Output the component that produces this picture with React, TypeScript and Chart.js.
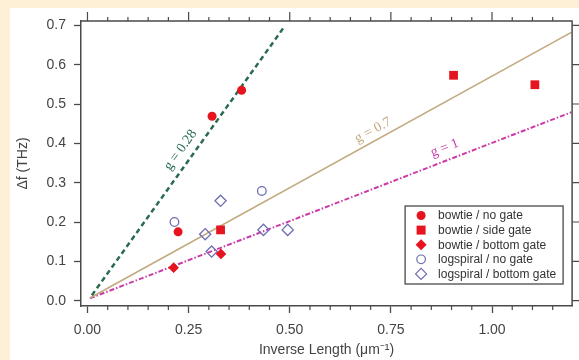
import React, { useEffect, useRef } from 'react';
import { Chart, registerables } from 'chart.js';

Chart.register(...registerables);

// ---- data ----
const bowtieNoGateX = [0.224, 0.308, 0.381];
const bowtieNoGateY = [0.175, 0.469, 0.535];
const bowtieSideGateX = [0.329, 0.905, 1.106];
const bowtieSideGateY = [0.18, 0.573, 0.549];
const bowtieBottomGateX = [0.213, 0.33];
const bowtieBottomGateY = [0.084, 0.119];
const logspiralNoGateX = [0.215, 0.431];
const logspiralNoGateY = [0.2, 0.279];
const logspiralBottomGateX = [0.329, 0.291, 0.435, 0.495, 0.307];
const logspiralBottomGateY = [0.254, 0.169, 0.18, 0.18, 0.125];

// fitted lines (endpoints)
const g028X = [0.011, 0.487];
const g028Y = [0.014, 0.697];
const g07X = [0.006, 1.196];
const g07Y = [0.007, 0.682];
const g1X = [0.006, 1.196];
const g1Y = [0.006, 0.479];

const lineLabels = ['g = 0.28', 'g = 0.7', 'g = 1'];
const lineLabelX = [0.23, 0.706, 0.883];
const lineLabelY = [0.383, 0.433, 0.388];

const legendLabels = [
  'bowtie / no gate',
  'bowtie / side gate',
  'bowtie / bottom gate',
  'logspiral / no gate',
  'logspiral / bottom gate',
];

const xMinorTicks = [0.05, 0.1, 0.15, 0.2, 0.3, 0.35, 0.4, 0.45, 0.55, 0.6, 0.65, 0.7, 0.8, 0.85, 0.9, 0.95, 1.05, 1.1, 1.15];
const xMajorTicks = [0, 0.25, 0.5, 0.75, 1.0];
const yMajorTicks = [0, 0.1, 0.2, 0.3, 0.4, 0.5, 0.6, 0.7];

const RED = '#e5141e';
const BLUE = '#6e6eb4';
const GREEN = '#2a6b52';
const TAN = '#c2a97f';
const MAGENTA = '#cc3aa8';
const AXIS = '#4a4a4a';

const pts = (xs: number[], ys: number[]) => xs.map((x, i) => ({ x, y: ys[i] }));

const framePlugin = {
  id: 'frame',
  afterDraw(chart: any) {
    const { ctx, chartArea, scales } = chart;
    const { left, right, top, bottom } = chartArea;
    const xs = scales.x;
    const ys = scales.y;
    ctx.save();
    ctx.strokeStyle = AXIS;
    ctx.lineWidth = 1.5;
    ctx.beginPath();
    ctx.moveTo(left, top);
    ctx.lineTo(right, top);
    ctx.lineTo(right, bottom);
    ctx.stroke();
    ctx.lineWidth = 1.2;
    ctx.beginPath();
    for (const v of xMinorTicks) {
      const px = xs.getPixelForValue(v);
      ctx.moveTo(px, bottom);
      ctx.lineTo(px, bottom + 4);
      ctx.moveTo(px, top);
      ctx.lineTo(px, top - 4);
    }
    for (const v of xMajorTicks) {
      const px = xs.getPixelForValue(v);
      ctx.moveTo(px, top);
      ctx.lineTo(px, top - 9);
    }
    for (const v of yMajorTicks) {
      const py = ys.getPixelForValue(v);
      ctx.moveTo(right, py);
      ctx.lineTo(right + 7, py);
    }
    ctx.stroke();

    // line labels, rotated along their lines
    const lines = [
      { X: g028X, Y: g028Y, c: GREEN },
      { X: g07X, Y: g07Y, c: TAN },
      { X: g1X, Y: g1Y, c: MAGENTA },
    ];
    lines.forEach((l, i) => {
      const x0 = xs.getPixelForValue(l.X[0]);
      const x1 = xs.getPixelForValue(l.X[1]);
      const y0 = ys.getPixelForValue(l.Y[0]);
      const y1 = ys.getPixelForValue(l.Y[1]);
      const ang = Math.atan2(y1 - y0, x1 - x0);
      const px = xs.getPixelForValue(lineLabelX[i]);
      const py = ys.getPixelForValue(lineLabelY[i]);
      ctx.save();
      ctx.translate(px, py);
      ctx.rotate(ang);
      ctx.fillStyle = l.c;
      ctx.font = '14px "Liberation Serif", "Times New Roman", serif';
      ctx.textAlign = 'center';
      ctx.textBaseline = 'middle';
      ctx.fillText(lineLabels[i], 0, 0);
      ctx.restore();
    });

    // legend
    const bw = 158;
    const bh = 78;
    const bx = right - 9 - bw;
    const by = bottom - 22 - bh;
    ctx.fillStyle = '#ffffff';
    ctx.fillRect(bx, by, bw, bh);
    ctx.strokeStyle = AXIS;
    ctx.lineWidth = 1.3;
    ctx.strokeRect(bx, by, bw, bh);
    ctx.font = '12px "Liberation Sans", Arial, sans-serif';
    ctx.textAlign = 'left';
    ctx.textBaseline = 'middle';
    legendLabels.forEach((lab, i) => {
      const cy = by + 9.5 + i * 14.6;
      const cx = bx + 16;
      ctx.beginPath();
      if (i === 0) {
        ctx.fillStyle = RED;
        ctx.arc(cx, cy, 4.5, 0, Math.PI * 2);
        ctx.fill();
      } else if (i === 1) {
        ctx.fillStyle = RED;
        ctx.fillRect(cx - 4.5, cy - 4.5, 9, 9);
      } else if (i === 2) {
        ctx.fillStyle = RED;
        ctx.moveTo(cx - 5.5, cy);
        ctx.lineTo(cx, cy - 5.5);
        ctx.lineTo(cx + 5.5, cy);
        ctx.lineTo(cx, cy + 5.5);
        ctx.closePath();
        ctx.fill();
      } else if (i === 3) {
        ctx.strokeStyle = BLUE;
        ctx.lineWidth = 1.2;
        ctx.arc(cx, cy, 4.3, 0, Math.PI * 2);
        ctx.stroke();
      } else {
        ctx.strokeStyle = BLUE;
        ctx.lineWidth = 1.2;
        ctx.moveTo(cx - 5.5, cy);
        ctx.lineTo(cx, cy - 5.5);
        ctx.lineTo(cx + 5.5, cy);
        ctx.lineTo(cx, cy + 5.5);
        ctx.closePath();
        ctx.stroke();
      }
      ctx.fillStyle = '#333333';
      ctx.fillText(lab, bx + 33, cy + 0.5);
    });
    ctx.restore();
  },
};

export default function App() {
  const ref = useRef<HTMLCanvasElement | null>(null);

  useEffect(() => {
    if (!ref.current) return;
    const tickFont = { family: '"Liberation Sans", Arial, sans-serif', size: 14 };
    const chart = new Chart(ref.current, {
      type: 'scatter',
      data: {
        datasets: [
          {
            label: 'bowtie / no gate',
            data: pts(bowtieNoGateX, bowtieNoGateY),
            pointStyle: 'circle',
            pointRadius: 4.5,
            backgroundColor: RED,
            borderColor: RED,
            borderWidth: 0,
            order: 1,
          },
          {
            label: 'bowtie / side gate',
            data: pts(bowtieSideGateX, bowtieSideGateY),
            pointStyle: 'rect',
            pointRadius: 6.2,
            backgroundColor: RED,
            borderColor: RED,
            borderWidth: 0,
            order: 1,
          },
          {
            label: 'bowtie / bottom gate',
            data: pts(bowtieBottomGateX, bowtieBottomGateY),
            pointStyle: 'rectRot',
            pointRadius: 5.3,
            backgroundColor: RED,
            borderColor: RED,
            borderWidth: 0,
            order: 1,
          },
          {
            label: 'logspiral / no gate',
            data: pts(logspiralNoGateX, logspiralNoGateY),
            pointStyle: 'circle',
            pointRadius: 4.3,
            backgroundColor: 'rgba(0,0,0,0)',
            borderColor: BLUE,
            borderWidth: 1.3,
            order: 2,
          },
          {
            label: 'logspiral / bottom gate',
            data: pts(logspiralBottomGateX, logspiralBottomGateY),
            pointStyle: 'rectRot',
            pointRadius: 5.6,
            backgroundColor: 'rgba(0,0,0,0)',
            borderColor: BLUE,
            borderWidth: 1.3,
            order: 2,
          },
          {
            type: 'line',
            label: 'g = 0.28',
            data: pts(g028X, g028Y),
            borderColor: GREEN,
            borderWidth: 2.5,
            borderDash: [5, 3.5],
            pointRadius: 0,
            showLine: true,
            fill: false,
            order: 5,
          } as any,
          {
            type: 'line',
            label: 'g = 0.7',
            data: pts(g07X, g07Y),
            borderColor: TAN,
            borderWidth: 1.6,
            pointRadius: 0,
            showLine: true,
            fill: false,
            order: 5,
          } as any,
          {
            type: 'line',
            label: 'g = 1',
            data: pts(g1X, g1Y),
            borderColor: MAGENTA,
            borderWidth: 2,
            borderDash: [5, 2, 1.5, 2],
            pointRadius: 0,
            showLine: true,
            fill: false,
            order: 5,
          } as any,
        ],
      },
      options: {
        animation: false,
        responsive: false,
        maintainAspectRatio: false,
        layout: { padding: { left: 0, top: 21, right: 5, bottom: 0 } },
        plugins: {
          legend: { display: false },
          tooltip: { enabled: false },
        },
        scales: {
          x: {
            type: 'linear',
            position: 'bottom',
            min: -0.016,
            max: 1.198,
            afterFit: (s: any) => {
              s.height = 54;
            },
            border: { display: true, color: AXIS, width: 1.5 },
            grid: {
              display: true,
              drawOnChartArea: false,
              drawTicks: true,
              tickLength: 7,
              tickColor: AXIS,
              tickWidth: 1.3,
            },
            ticks: {
              stepSize: 0.25,
              includeBounds: false,
              color: '#444',
              font: tickFont,
              padding: 9,
              maxRotation: 0,
              callback: (v: any) => Number(v).toFixed(2),
            },
            title: {
              display: true,
              text: 'Inverse Length (\u03bcm\u207b\u00b9)',
              color: '#444',
              font: tickFont,
              padding: { top: 0, bottom: 1 },
            },
          },
          y: {
            type: 'linear',
            min: -0.0135,
            max: 0.711,
            afterFit: (s: any) => {
              s.width = 81;
            },
            border: { display: true, color: AXIS, width: 1.5 },
            grid: {
              display: true,
              drawOnChartArea: false,
              drawTicks: true,
              tickLength: 7,
              tickColor: AXIS,
              tickWidth: 1.3,
            },
            ticks: {
              stepSize: 0.1,
              includeBounds: false,
              color: '#444',
              font: tickFont,
              padding: 8,
              callback: (v: any) => Number(v).toFixed(1),
            },
            title: {
              display: true,
              text: '\u0394f (THz)',
              color: '#444',
              font: tickFont,
              padding: { top: 15, bottom: 0 },
            },
          },
        },
      },
      plugins: [framePlugin],
    });
    return () => chart.destroy();
  }, []);

  return (
    <div
      style={{
        position: 'fixed',
        left: 0,
        top: 0,
        width: 579,
        height: 360,
        background: '#fdf0d7',
        overflow: 'hidden',
      }}
    >
      <div
        style={{
          position: 'absolute',
          left: 10,
          top: 8,
          right: 0,
          bottom: 0,
          background: '#ffffff',
        }}
      />
      <canvas
        ref={ref}
        width={579}
        height={360}
        style={{ position: 'absolute', left: 0, top: 0, width: 579, height: 360 }}
      />
    </div>
  );
}
